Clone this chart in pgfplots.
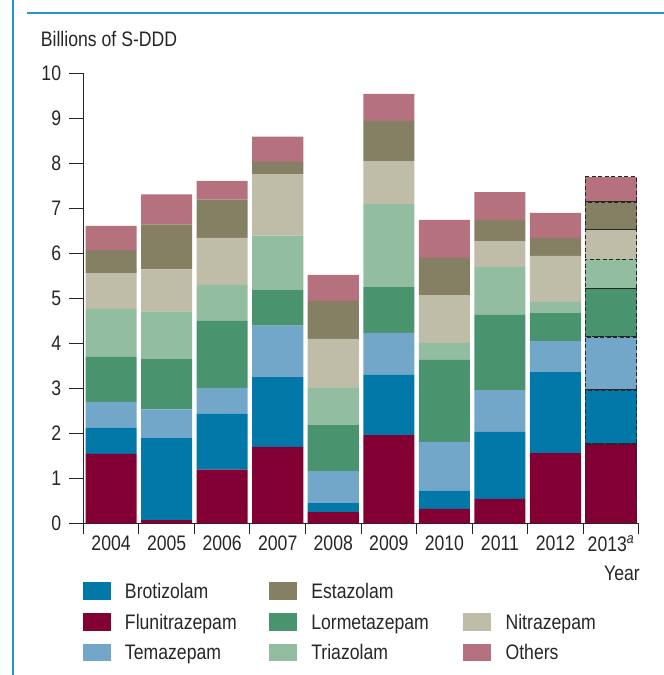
\documentclass[border=0pt]{standalone}
\usepackage{pgfplots}
\pgfplotsset{compat=1.18}
\usepackage{pgfplotstable}
\usepackage{fontspec}
\setmainfont{Liberation Sans}[FakeStretch=0.84]
\definecolor{bro}{HTML}{0178A7}
\definecolor{flu}{HTML}{820034}
\definecolor{tem}{HTML}{73A7C9}
\definecolor{lor}{HTML}{49936F}
\definecolor{tri}{HTML}{93BDA0}
\definecolor{nit}{HTML}{BFBDA8}
\definecolor{est}{HTML}{857F64}
\definecolor{oth}{HTML}{B6717E}
\definecolor{frameblue}{RGB}{40,150,195}
\definecolor{axc}{HTML}{262626}

\pgfplotstableread{
x flu bro tem lor tri nit est oth
0 1.54 0.58 0.58 1.00 1.06 0.80 0.51 0.54
1 0.07 1.82 0.64 1.13 1.05 0.93 1.00 0.67
2 1.19 1.24 0.58 1.49 0.80 1.04 0.85 0.42
3 1.70 1.55 1.14 0.80 1.20 1.37 0.27 0.56
4 0.25 0.20 0.71 1.03 0.82 1.09 0.84 0.58
5 1.96 1.34 0.93 1.02 1.85 0.95 0.89 0.60
6 0.32 0.40 1.09 1.82 0.38 1.06 0.83 0.84
7 0.54 1.49 0.93 1.67 1.07 0.57 0.47 0.62
8 1.56 1.80 0.69 0.62 0.25 1.02 0.40 0.56
}\maindata
\pgfplotstableread{
x flu bro tem lor tri nit est oth
9 1.76 1.20 1.18 1.07 0.66 0.65 0.62 0.56
}\estdata

\pgfplotsset{
  sw/.style={legend image code/.code={\fill[##1, draw=none] (0bp,-6.7bp) rectangle (28bp,10.8bp);}},
  noimg/.style={legend image code/.code={}},
}
\newcommand{\ca}[1]{\makebox[140bp][l]{#1}}
\newcommand{\cb}[1]{\makebox[148bp][l]{#1}}

\begin{document}
\fontsize{21bp}{25bp}\selectfont
\begin{tikzpicture}[font=\fontsize{21bp}{25bp}\selectfont]
\useasboundingbox (0bp,0bp) rectangle (664bp,675bp);
\draw[frameblue, line width=2bp] (12.7bp,0bp) -- (12.7bp,675bp);
\draw[frameblue, line width=1.5bp] (27bp,662bp) -- (664bp,662bp);
\node[anchor=base west, inner sep=0pt, text=axc] at (40.7bp,628.3bp) {Billions of S-DDD};
\node[anchor=base east, inner sep=0pt, text=axc] at (640bp,94.3bp) {Year};

\begin{axis}[
  at={(83.3bp,151.7bp)}, anchor=south west,
  scale only axis, width=555.5bp, height=450bp,
  xmin=-0.5, xmax=9.5, ymin=0, ymax=10,
  axis lines*=left,
  axis line style={line width=1bp, axc},
  ybar stacked, bar width=0.92,
  xtick={0,...,9},
  xticklabels={2004,2005,2006,2007,2008,2009,2010,2011,2012,2013\textsuperscript{\itshape a}},
  minor xtick={-0.5,0.5,...,9.5},
  ytick={0,...,10},
  tick align=outside, major tick length=14bp, minor tick length=11bp,
  tick style={line width=1bp, axc},
  major x tick style={draw=none},
  /pgf/number format/assume math mode=true,
  xticklabel style={inner sep=0pt, text=axc, yshift=1.5bp},
  yticklabel style={inner sep=0pt, text=axc, xshift=-8bp},
  legend columns=3,
  legend cell align=left,
  legend style={at={(axis description cs:-0.0011,-0.1311)}, anchor=north west,
    draw=none, fill=none, inner sep=0pt, outer sep=0pt, row sep=10.2bp,
    /tikz/every odd column/.append style={column sep=14.3bp},
    /tikz/every even column/.append style={column sep=4bp},
    nodes={inner sep=0pt, text height=15bp, text depth=4.5bp, text=axc}},
]
\addlegendimage{sw, fill=bro}
\addlegendimage{sw, fill=est}
\addlegendimage{noimg}
\addlegendimage{sw, fill=flu}
\addlegendimage{sw, fill=lor}
\addlegendimage{sw, fill=nit}
\addlegendimage{sw, fill=tem}
\addlegendimage{sw, fill=tri}
\addlegendimage{sw, fill=oth}
\legend{\ca{Brotizolam},\cb{Estazolam},\ca{\mbox{}},\ca{Flunitrazepam},\cb{Lormetazepam},\ca{Nitrazepam},\ca{Temazepam},\cb{Triazolam},\ca{Others}}
\addplot[fill=flu, draw=none] table[x=x,y=flu]{\maindata};
\addplot[fill=bro, draw=none] table[x=x,y=bro]{\maindata};
\addplot[fill=tem, draw=none] table[x=x,y=tem]{\maindata};
\addplot[fill=lor, draw=none] table[x=x,y=lor]{\maindata};
\addplot[fill=tri, draw=none] table[x=x,y=tri]{\maindata};
\addplot[fill=nit, draw=none] table[x=x,y=nit]{\maindata};
\addplot[fill=est, draw=none] table[x=x,y=est]{\maindata};
\addplot[fill=oth, draw=none] table[x=x,y=oth]{\maindata};
\end{axis}

\begin{axis}[
  at={(83.3bp,151.7bp)}, anchor=south west,
  scale only axis, width=555.5bp, height=450bp,
  xmin=-0.5, xmax=9.5, ymin=0, ymax=10,
  hide axis,
  ybar stacked, bar width=0.92,
]
\pgfplotsset{every axis plot/.append style={draw=axc, line width=1.2bp, dash pattern=on 4bp off 2.5bp}}
\addplot[fill=flu] table[x=x,y=flu]{\estdata};
\addplot[fill=bro] table[x=x,y=bro]{\estdata};
\addplot[fill=tem] table[x=x,y=tem]{\estdata};
\addplot[fill=lor] table[x=x,y=lor]{\estdata};
\addplot[fill=tri] table[x=x,y=tri]{\estdata};
\addplot[fill=nit] table[x=x,y=nit]{\estdata};
\addplot[fill=est] table[x=x,y=est]{\estdata};
\addplot[fill=oth] table[x=x,y=oth]{\estdata};
\end{axis}
\end{tikzpicture}
\end{document}
